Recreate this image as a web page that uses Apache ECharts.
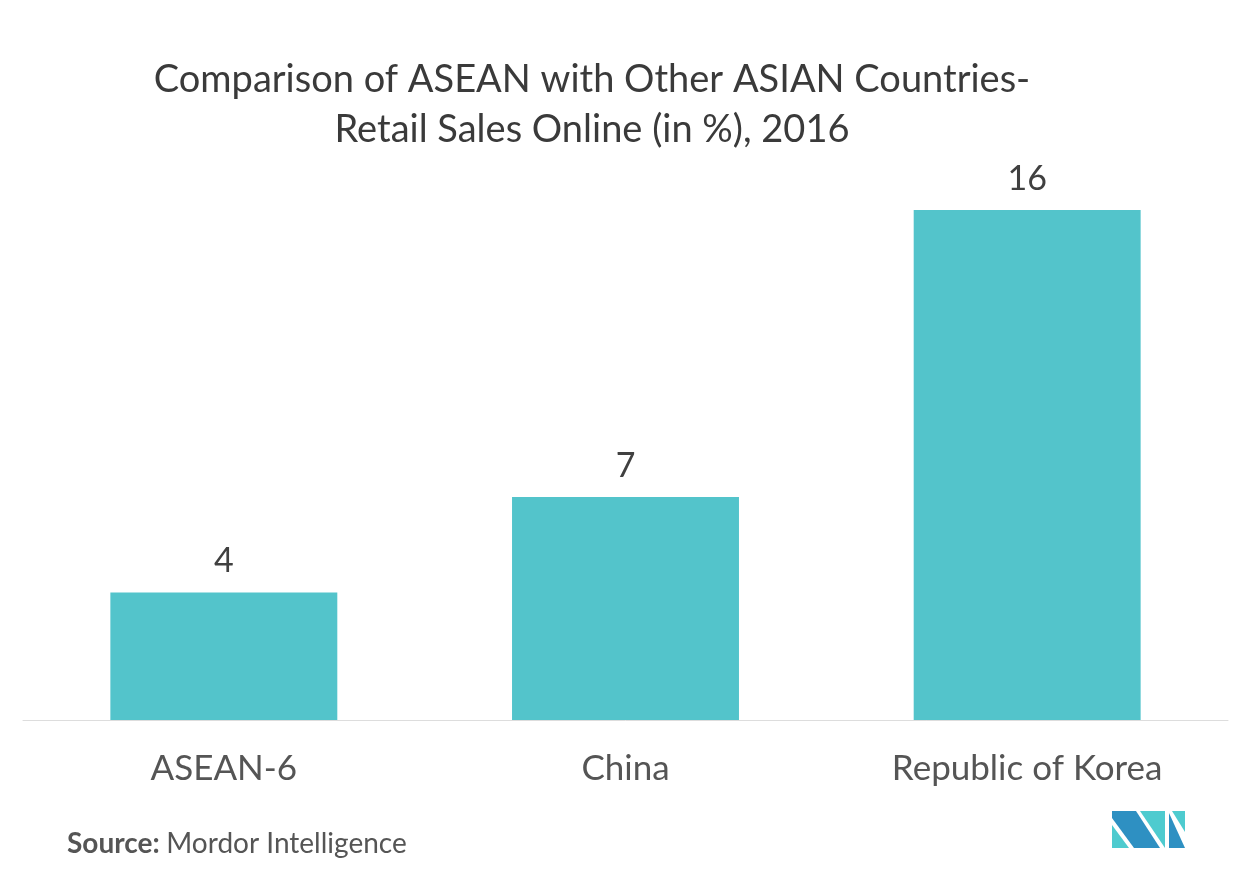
<!DOCTYPE html>
<html>
<head>
<meta charset="utf-8">
<script src="https://cdn.jsdelivr.net/npm/echarts@6/dist/echarts.min.js"></script>
<style>
html,body{margin:0;padding:0;background:#fff;}
#chart{width:1253px;height:882px;}
</style>
</head>
<body>
<div id="chart"></div>
<script>
var categories = ['ASEAN-6', 'China', 'Republic of Korea'];
var values = [4, 7, 16];
var titleText = 'Comparison of ASEAN with Other ASIAN Countries-\nRetail Sales Online (in %), 2016';

var chart = echarts.init(document.getElementById('chart'), null, {renderer: 'canvas'});
var FONT = 'Lato, "Noto Sans", sans-serif';
chart.setOption({
  backgroundColor: '#ffffff',
  animation: false,
  title: {
    text: titleText,
    left: 587,
    top: 50,
    textAlign: 'center',
    textStyle: {fontFamily: FONT, fontSize: 38, fontWeight: 'normal', color: '#3a3a3a', lineHeight: 50}
  },
  grid: {left: 23, right: 25, top: 210, bottom: 162, containLabel: false},
  xAxis: {
    type: 'category',
    data: categories,
    axisLine: {show: true, lineStyle: {color: '#dddddd', width: 1}},
    axisTick: {show: false},
    axisLabel: {fontFamily: FONT, fontSize: 35, color: '#555555', margin: 31}
  },
  yAxis: {
    type: 'value',
    min: 0,
    max: 16,
    show: false,
    splitLine: {show: false}
  },
  series: [{
    type: 'bar',
    data: values,
    barWidth: '56.5%',
    itemStyle: {color: '#53C4CB'},
    label: {show: true, position: 'top', distance: 14, fontFamily: FONT, fontSize: 34, color: '#404040'}
  }],
  graphic: [
    {
      type: 'text', left: 67, top: 830,
      style: {
        text: '{b|Source:}  {r|Mordor Intelligence}',
        rich: {
          b: {fontFamily: FONT, fontSize: 28, fontWeight: 'bold', fill: '#555555'},
          r: {fontFamily: FONT, fontSize: 28, fill: '#555555'}
        }
      }
    },
    {type: 'polygon', shape: {points: [[1112,811],[1136,811],[1160,848],[1134,848],[1112,818]]}, style: {fill: '#2E90C2'}},
    {type: 'polygon', shape: {points: [[1112,825],[1129,848],[1112,848]]}, style: {fill: '#4ECBCF'}},
    {type: 'polygon', shape: {points: [[1140,811],[1165,811],[1165,848]]}, style: {fill: '#4ECBCF'}},
    {type: 'polygon', shape: {points: [[1169,813],[1169,848],[1185,848]]}, style: {fill: '#2E90C2'}},
    {type: 'polygon', shape: {points: [[1172,811],[1185,811],[1185,832]]}, style: {fill: '#4ECBCF'}}
  ]
});
</script>
</body>
</html>
